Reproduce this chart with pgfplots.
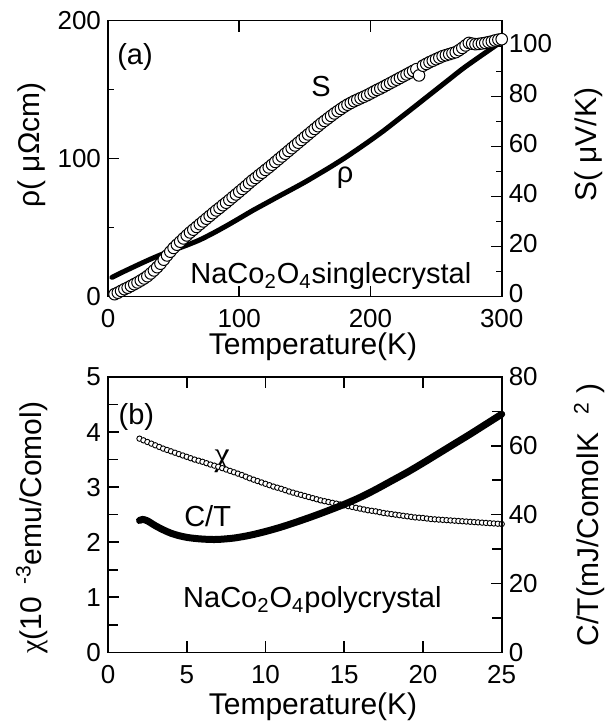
\documentclass[border=0pt]{standalone}
\usepackage{fontspec}
\setmainfont{Liberation Sans}
\newfontfamily\serifgreek{Liberation Serif}
\usepackage{pgfplots}
\pgfplotsset{compat=1.18}
\newcommand{\labfont}{\fontsize{15}{18}\selectfont}
\pgfplotsset{
  myaxis/.style={
    scale only axis, width=196.85pt,
    /pgf/number format/assume math mode=true,
    tick label style={font=\fontsize{13}{15}\selectfont},
    tick align=inside,
    major tick length=5.5pt, minor tick length=3pt,
    axis line style={line width=0.8pt},
    tick style={line width=0.8pt, black},
    clip=false,
    xticklabel style={yshift=-3pt},
  },
}
\tikzset{annot/.style={font=\fontsize{14.5}{17}\selectfont, inner sep=0pt}}
\begin{document}
\begin{tikzpicture}
\path[use as bounding box] (0,0) rectangle (304pt,363.5pt);
% ---------------- panel (a) ----------------
\begin{axis}[myaxis, at={(54pt,215.15pt)}, anchor=south west, height=138pt,
  xmin=0, xmax=300, ymin=0, ymax=200,
  xtick={0,100,200,300}, ytick={0,100,200}, minor ytick={50,150},
  xtick pos=both, ytick pos=left,
  xlabel={Temperature(K)}, ylabel={ρ( μΩcm)},
  every axis x label/.style={at={(axis description cs:0.5207,0)}, anchor=center, yshift=-25.15pt, font=\labfont},
  every axis y label/.style={at={(axis description cs:-0.1938,0.55)}, rotate=90, anchor=center, font=\labfont},
]
\addplot[black, line width=2.5pt, smooth, line cap=round] coordinates {
(3,14.0) (10,17.3) (20,21.8) (30,26.2) (40,30.3) (50,33.8) (60,37.3) (70,41.2)
(80,46.0) (90,51.2) (100,56.7) (110,62.3) (120,67.5) (130,72.7) (140,77.8)
(150,83.0) (160,88.6) (170,94.3) (180,100.3) (190,106.7) (200,113.3) (210,120.2)
(220,127.6) (230,135.0) (240,142.5) (250,150.0) (260,157.5) (270,165.0)
(280,171.8) (290,178.4) (300,185.0)
};
\node[annot] at (rel axis cs:0.0686,0.870) {(a)};
\node[annot] at (rel axis cs:0.541,0.760) {S};
\node[annot] at (rel axis cs:0.602,0.43) {ρ};
\node[annot, anchor=base] at (rel axis cs:0.566,0.046) {NaCo\textsubscript{2}O\textsubscript{4}singlecrystal};
\end{axis}
\begin{axis}[myaxis, at={(54pt,215.15pt)}, anchor=south west, height=138pt,
  xmin=0, xmax=300, ymin=0, ymax=110.4,
  hide x axis, ytick pos=right, yticklabel pos=right,
  yticklabel style={yshift=1.5pt},
  ytick={0,20,...,100}, minor ytick={10,30,...,90},
  ylabel={S( μV/K)},
  every axis y label/.style={at={(axis description cs:1.2217,0.55)}, rotate=90, anchor=center, font=\labfont},
]
\addplot[only marks, mark=*, mark size=2.9pt, mark options={fill=white, draw=black, line width=0.5pt}] coordinates {
(5,1.0) (7.5,1.6) (10,2.3) (12.5,3.0) (15,3.6) (17.5,4.3) (20,5.0) (22.5,5.7)
(25,6.5) (27.5,7.3) (30,8.2) (32.5,9.3) (35,10.5) (37.5,11.8) (40,13.2) (42.5,14.8)
(45,16.5) (47.5,18.0) (50,19.5) (52.5,20.8) (55,22.0) (57.5,23.3) (60,24.5)
(62.5,25.7) (65,26.8) (67.5,27.9) (70,29.0) (72.5,30.1) (75,31.2) (77.5,32.3)
(80,33.4) (82.5,34.5) (85,35.5) (87.5,36.6) (90,37.6) (92.5,38.7) (95,39.8)
(97.5,40.9) (100,42.0) (102.5,43.1) (105,44.2) (107.5,45.4) (110,46.5)
(112.5,47.5) (115,48.6) (117.5,49.6) (120,50.7) (122.5,51.7) (125,52.8)
(127.5,53.9) (130,55.0) (132.5,56.1) (135,57.2) (137.5,58.3) (140,59.4)
(142.5,60.5) (145,61.6) (147.5,62.7) (150,63.8) (152.5,64.9) (155,66.0)
(157.5,67.1) (160,68.2) (162.5,69.3) (165,70.3) (167.5,71.3) (170,72.3)
(172.5,73.3) (175,74.2) (177.5,75.1) (180,76.0) (182.5,76.8) (185,77.5)
(187.5,78.2) (190,78.8) (192.5,79.4) (195,80.0) (197.5,80.6) (200,81.3)
(202.5,82.0) (205,82.7) (207.5,83.3) (210,84.0) (212.5,84.7) (215,85.4)
(217.5,86.1) (220,86.8) (222.5,87.5) (225,88.2) (227.5,88.9) (230,89.6)
(232.5,90.3) (235,91.0) (237,88.5) (240,92.4) (242.5,93.1) (245,93.8)
(247.5,94.4) (250,95.0) (252.5,95.6) (255,96.2) (257.5,96.6) (260,97.0)
(262.5,97.4) (265,97.8) (267.5,98.6) (270,99.5) (272.5,100.5) (275,101.5)
(277.5,101.2) (280,101.0) (282.5,101.1) (285,101.3) (287.5,101.5) (290,101.8)
(292.5,102.1) (295,102.5) (297.5,102.8) (300,103.0)
};
\end{axis}
% ---------------- panel (b) ----------------
\begin{axis}[myaxis, at={(54pt,37.35pt)}, anchor=south west, height=137.65pt,
  xmin=0, xmax=25, ymin=0, ymax=5,
  xtick={0,5,...,25}, ytick={0,1,...,5}, minor ytick={0.5,1.5,...,4.5},
  minor tick length=5pt,
  xtick pos=both, ytick pos=left,
  xlabel={Temperature(K)}, ylabel={{\serifgreek χ}(10\hspace{0.4em}\textsuperscript{-3}emu/Comol)},
  every axis x label/.style={at={(axis description cs:0.5207,0)}, anchor=center, yshift=-27.35pt, font=\labfont},
  every axis y label/.style={at={(axis description cs:-0.1938,0.453)}, rotate=90, anchor=center, font=\labfont},
]
\addplot[only marks, mark=*, mark size=1.35pt, mark options={fill=white, draw=black, line width=0.45pt}] coordinates {
(2.00,3.88) (2.25,3.85) (2.50,3.82) (2.75,3.79) (3.00,3.76) (3.25,3.73) (3.50,3.70)
(3.75,3.675) (4.00,3.65) (4.25,3.625) (4.50,3.60) (4.75,3.575) (5.00,3.55)
(5.25,3.525) (5.50,3.50) (5.75,3.48) (6.00,3.46) (6.25,3.435) (6.50,3.41)
(6.75,3.39) (7.00,3.37) (7.25,3.345) (7.50,3.32) (7.75,3.295) (8.00,3.27)
(8.25,3.245) (8.50,3.22) (8.75,3.19) (9.00,3.16) (9.25,3.135) (9.50,3.11)
(9.75,3.085) (10.00,3.06) (10.25,3.035) (10.50,3.01) (10.75,2.99) (11.00,2.97)
(11.25,2.945) (11.50,2.92) (11.75,2.90) (12.00,2.88) (12.25,2.86) (12.50,2.84)
(12.75,2.82) (13.00,2.80) (13.25,2.78) (13.50,2.76) (13.75,2.745) (14.00,2.73)
(14.25,2.715) (14.50,2.70) (14.75,2.685) (15.00,2.67) (15.25,2.655) (15.50,2.64)
(15.75,2.625) (16.00,2.61) (16.25,2.595) (16.50,2.58) (16.75,2.57) (17.00,2.56)
(17.25,2.545) (17.50,2.53) (17.75,2.52) (18.00,2.51) (18.25,2.50) (18.50,2.49)
(18.75,2.48) (19.00,2.47) (19.25,2.46) (19.50,2.45) (19.75,2.445) (20.00,2.44)
(20.25,2.43) (20.50,2.42) (20.75,2.415) (21.00,2.41) (21.25,2.405) (21.50,2.40)
(21.75,2.395) (22.00,2.39) (22.25,2.385) (22.50,2.38) (22.75,2.375) (23.00,2.37)
(23.25,2.365) (23.50,2.36) (23.75,2.355) (24.00,2.35) (24.25,2.345) (24.50,2.34)
(24.75,2.335) (25.00,2.33)
};
\node[annot] at (rel axis cs:0.072,0.853) {(b)};
\node[annot, font=\fontsize{17}{19}\selectfont] at (rel axis cs:0.29,0.695) {\serifgreek χ};
\node[annot] at (rel axis cs:0.253,0.495) {C/T};
\node[annot, anchor=base] at (rel axis cs:0.519,0.161) {NaCo\textsubscript{2}O\textsubscript{4}polycrystal};
\end{axis}
\begin{axis}[myaxis, at={(54pt,37.35pt)}, anchor=south west, height=137.65pt,
  xmin=0, xmax=25, ymin=0, ymax=80,
  minor tick length=5pt,
  hide x axis, ytick pos=right, yticklabel pos=right,
  ytick={0,20,...,80}, minor ytick={10,30,50,70},
  ylabel={C/T(mJ/ComolK\hspace{0.6em}\textsuperscript{2}\hspace{0.3em})},
  every axis y label/.style={at={(axis description cs:1.223,0.5)}, rotate=90, anchor=center, font=\labfont},
]
\addplot[black, line width=3.5pt, smooth, line cap=round] coordinates {
(2.0,38.3) (2.2,38.6) (2.5,38.2) (3.0,36.8) (3.5,35.6) (4.0,34.6) (4.5,33.9)
(5.0,33.4) (5.5,33.1) (6.0,32.9) (6.5,32.8) (7.0,32.8) (8.0,33.2) (9.0,34.0)
(10,35.1) (11,36.4) (12,37.9) (13,39.5) (14,41.2) (15,43.0) (16,45.0) (17,47.3)
(18,49.8) (19,52.3) (20,55.0) (21,57.8) (22,60.6) (23,63.4) (24,66.3) (25,69.2)
};
\end{axis}
\end{tikzpicture}
\end{document}
